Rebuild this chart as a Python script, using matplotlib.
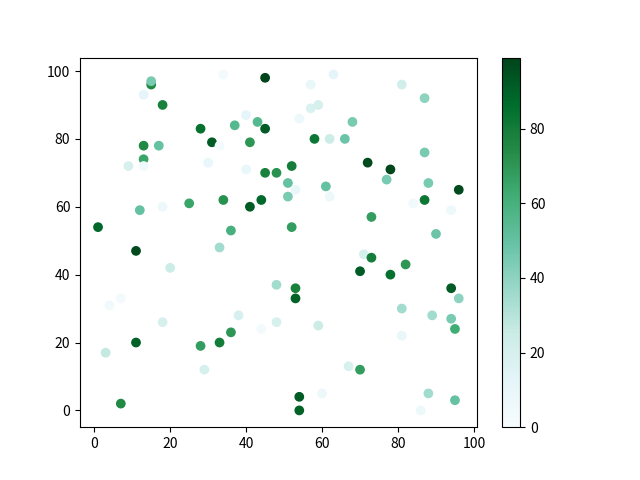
import matplotlib
matplotlib.use("Agg")
import matplotlib.pyplot as plt

plt.rcParams['font.family'] = ['Noto Sans CJK SC', 'DejaVu Sans']

x = [1, 3, 4, 7, 7, 9, 11, 11, 12, 13, 13, 13, 13, 15, 15, 18, 17, 18, 18, 20,
     25, 28, 28, 29, 30, 31, 33, 33, 33, 34, 34, 36, 36, 37, 38, 40, 40, 41, 41, 43,
     44, 44, 45, 45, 45, 48, 48, 48, 51, 51, 52, 52, 53, 53, 53, 54, 54, 54, 57, 57,
     58, 59, 59, 60, 61, 62, 62, 63, 66, 67, 68, 70, 70, 71, 72, 73, 73, 77, 78, 78,
     81, 81, 81, 82, 84, 86, 87, 87, 87, 88, 88, 89, 90, 94, 94, 94, 95, 95, 96, 96]
y = [54, 17, 31, 33, 2, 72, 47, 20, 59, 78, 74, 72, 93, 96, 97, 90, 78, 60, 26, 42,
     61, 83, 19, 12, 73, 79, 78, 48, 20, 99, 62, 53, 23, 84, 28, 87, 71, 79, 60, 85,
     62, 24, 98, 83, 70, 70, 37, 26, 67, 63, 72, 54, 65, 36, 33, 86, 4, 0, 96, 89,
     80, 90, 25, 5, 66, 80, 63, 99, 80, 13, 85, 41, 12, 46, 73, 57, 45, 68, 71, 40,
     96, 30, 22, 43, 61, 0, 92, 76, 62, 67, 5, 28, 52, 59, 36, 27, 24, 3, 65, 33]
c = [88, 27, 5, 3, 75, 20, 97, 90, 50, 75, 65, 5, 12, 75, 45, 78, 50, 8, 20, 25,
     65, 85, 68, 20, 10, 92, 3, 35, 80, 3, 72, 60, 70, 55, 20, 12, 10, 70, 92, 55,
     88, 3, 99, 92, 78, 72, 35, 20, 50, 45, 80, 68, 10, 78, 90, 8, 92, 90, 10, 18,
     82, 20, 25, 8, 50, 25, 8, 12, 48, 20, 45, 92, 68, 20, 97, 68, 80, 45, 98, 85,
     22, 35, 10, 70, 5, 8, 40, 45, 82, 45, 35, 35, 48, 8, 92, 45, 62, 50, 97, 40]

fig, ax = plt.subplots(figsize=(6.4, 4.8), dpi=100)
sc = ax.scatter(x, y, c=c, cmap='BuGn', vmin=0, vmax=99)
fig.colorbar(sc, ax=ax)
fig.savefig('out.png')
